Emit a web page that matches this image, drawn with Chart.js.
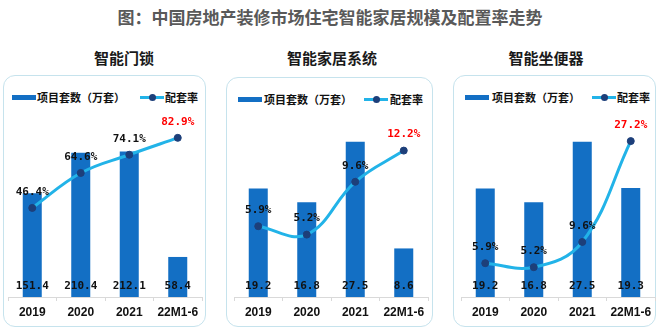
<!DOCTYPE html>
<html>
<head>
<meta charset="utf-8">
<script src="https://cdn.jsdelivr.net/npm/chart.js@4"></script>
<style>
  body { margin: 0; background: #fff; }
  #wrap { position: relative; width: 660px; height: 330px; overflow: hidden; background: #fff;
          font-family: "Noto Sans CJK SC", "Noto Sans", sans-serif; }
  .title { position: absolute; left: 0; width: 660px; top: 6px; text-align: center;
           font-size: 17px; font-weight: bold; color: #595959; line-height: 22px; }
  .sub { position: absolute; top: 48px; width: 160px; text-align: center;
         font-size: 15px; font-weight: bold; color: #1a1a1a; line-height: 20px; }
  .box { position: absolute; border: 1.5px solid #c6e3ed; border-radius: 12px; box-sizing: border-box; }
  .lg { position: absolute; font-size: 11px; font-weight: bold; color: #111; line-height: 14px; white-space: nowrap; }
  .sw-bar { position: absolute; width: 24px; height: 5px; background: #136fc4; }
  .sw-line { position: absolute; width: 24px; height: 3px; background: #22b3e8; }
  .sw-line::after { content: ""; position: absolute; left: 9px; top: -2px; width: 7px; height: 7px;
                    border-radius: 50%; background: #1d3f7a; }
  canvas { position: absolute; top: 100px; }
</style>
</head>
<body>
<div id="wrap">
  <div class="title">图：中国房地产装修市场住宅智能家居规模及配置率走势</div>

  <div class="sub" style="left:44px">智能门锁</div>
  <div class="sub" style="left:252px">智能家居系统</div>
  <div class="sub" style="left:466px">智能坐便器</div>

  <div class="box" style="left:3px;top:75px;width:203px;height:252px"></div>
  <div class="box" style="left:226px;top:77px;width:207px;height:250px"></div>
  <div class="box" style="left:453px;top:75px;width:203px;height:252px"></div>

  <div class="sw-bar" style="left:12px;top:95px"></div>
  <div class="lg" style="left:37px;top:90px">项目套数（万套）</div>
  <div class="sw-line" style="left:140px;top:96px"></div>
  <div class="lg" style="left:165px;top:90px">配套率</div>

  <div class="sw-bar" style="left:238px;top:97px"></div>
  <div class="lg" style="left:264px;top:92px">项目套数（万套）</div>
  <div class="sw-line" style="left:364px;top:98px"></div>
  <div class="lg" style="left:390px;top:92px">配套率</div>

  <div class="sw-bar" style="left:465px;top:95px"></div>
  <div class="lg" style="left:492px;top:90px">项目套数（万套）</div>
  <div class="sw-line" style="left:592px;top:96px"></div>
  <div class="lg" style="left:617px;top:90px">配套率</div>

  <canvas id="lockChart" width="204" height="228" style="left:3px"></canvas>
  <canvas id="homeChart" width="204" height="228" style="left:229px"></canvas>
  <canvas id="toiletChart" width="204" height="228" style="left:456px"></canvas>
</div>

<script>
const categories = ['2019', '2020', '2021', '22M1-6'];

const lockCounts = [151.4, 210.4, 212.1, 58.4];
const lockRates = [46.4, 64.6, 74.1, 82.9];

const homeCounts = [19.2, 16.8, 27.5, 8.6];
const homeRates = [5.9, 5.2, 9.6, 12.2];

const toiletCounts = [19.2, 16.8, 27.5, 19.3];
const toiletRates = [5.9, 5.2, 9.6, 27.2];

const BAR_BLUE = '#136fc4';
const LINE_BLUE = '#22b3e8';
const DOT_NAVY = '#1d3f7a';

// value labels: counts near the bar foot, rates above the points (last one in red)
const valueLabels = {
    id: 'valueLabels',
    afterDraw(chart) {
        const ctx = chart.ctx;
        ctx.save();
        ctx.font = 'bold 11px "DejaVu Sans Mono", monospace';
        ctx.textAlign = 'center';
        ctx.textBaseline = 'middle';
        chart.data.datasets.forEach((ds, i) => {
            const meta = chart.getDatasetMeta(i);
            meta.data.forEach((el, j) => {
                const v = ds.data[j];
                if (ds.type === 'bar') {
                    ctx.fillStyle = '#111';
                    ctx.fillText(v.toFixed(1), el.x, el.base - 11);
                } else {
                    ctx.fillStyle = j === ds.data.length - 1 ? '#ff0000' : '#111';
                    ctx.fillText(v.toFixed(1) + '%', el.x, el.y - 16);
                }
            });
        });
        ctx.restore();
    }
};

function makePanel(id, counts, rates, countMax, rateMax) {
    new Chart(document.getElementById(id), {
        data: {
            labels: categories,
            datasets: [{
                type: 'bar',
                label: '项目套数（万套）',
                data: counts,
                backgroundColor: BAR_BLUE,
                barPercentage: 0.8,
                categoryPercentage: 0.49,
                yAxisID: 'y',
                order: 1
            }, {
                type: 'line',
                label: '配套率',
                data: rates,
                borderColor: LINE_BLUE,
                borderWidth: 3,
                tension: 0.4,
                pointRadius: 3.5,
                pointBackgroundColor: DOT_NAVY,
                pointBorderColor: DOT_NAVY,
                pointBorderWidth: 1,
                yAxisID: 'y1',
                order: 0
            }]
        },
        options: {
            responsive: false,
            animation: false,
            events: [],
            layout: { padding: { top: 4, left: 0, right: 0, bottom: 0 } },
            plugins: { legend: { display: false }, tooltip: { enabled: false } },
            scales: {
                x: {
                    afterFit(scale) { scale.height = 31; },
                    grid: { drawOnChartArea: false, tickLength: 4, color: '#d9d9d9' },
                    border: { color: '#d9d9d9' },
                    ticks: {
                        padding: 4,
                        color: '#111',
                        font: { family: '"Liberation Sans", Arial, sans-serif', size: 12, weight: 'bold' }
                    }
                },
                y: { display: false, min: 0, max: countMax },
                y1: { display: false, min: 0, max: rateMax }
            }
        },
        plugins: [valueLabels]
    });
}

makePanel('lockChart', lockCounts, lockRates, 280, 100);
makePanel('homeChart', homeCounts, homeRates, 34, 16);
makePanel('toiletChart', toiletCounts, toiletRates, 34, 33.5);
</script>
</body>
</html>
